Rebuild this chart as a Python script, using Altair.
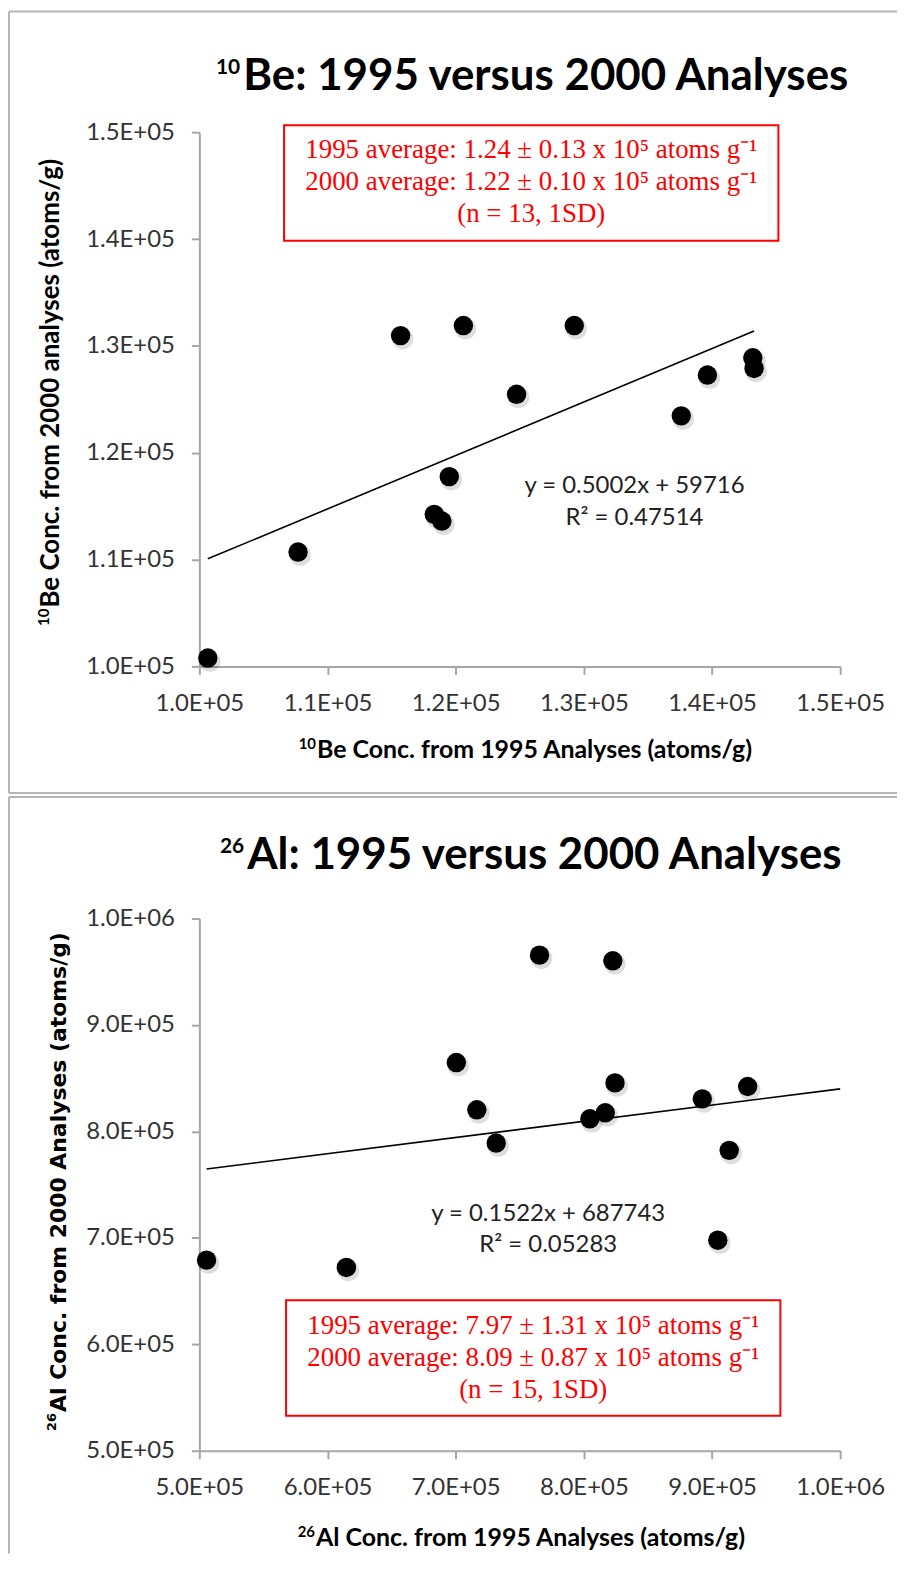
import altair as alt
import pandas as pd

# ---------------- data ----------------
be_1995 = [100660, 107700, 115700, 120600, 129250, 124750, 119500, 118330, 118920, 137600, 139640, 143180, 143280]
be_2000 = [100780, 110700, 130960, 131900, 131900, 125470, 117760, 114220, 113600, 123450, 127270, 128880, 127890]

al_1995 = [505600, 614700, 765400, 822600, 700500, 716500, 731600, 804700, 816700, 824300, 892400, 927800, 913400, 904500]
al_2000 = [679100, 672200, 965600, 960300, 864700, 820300, 789100, 811900, 817500, 845600, 830600, 842200, 782200, 697800]

be_fit = [0.5002, 59716]
al_fit = [0.1522, 687743]

be_ticks = [100000, 110000, 120000, 130000, 140000, 150000]
al_ticks = [500000, 600000, 700000, 800000, 900000, 1000000]

be_box_lines = ["1995 average: 1.24 \u00b1 0.13 x 10\u2075 atoms g\u207b\u00b9",
                "2000 average: 1.22 \u00b1 0.10 x 10\u2075 atoms g\u207b\u00b9",
                "(n = 13, 1SD)"]
al_box_lines = ["1995 average: 7.97 \u00b1 1.31 x 10\u2075 atoms g\u207b\u00b9",
                "2000 average: 8.09 \u00b1 0.87 x 10\u2075 atoms g\u207b\u00b9",
                "(n = 15, 1SD)"]
be_eq_lines = ["y = 0.5002x + 59716", "R\u00b2 = 0.47514"]
al_eq_lines = ["y = 0.1522x + 687743", "R\u00b2 = 0.05283"]

FONT = "Lato"
SERIF = "Liberation Serif"
AXIS_GRAY = "#a6a6a6"
BORDER = "#b5b5b5"
W = 643
LABEL_EXPR = ("datum.value >= 999999 ? format(datum.value / 1000000, '.1f') + 'E+06' : "
              "format(datum.value / 100000, '.1f') + 'E+05'")


def one():
    return pd.DataFrame({"k": [0]})


def build(c):
    xs = alt.Scale(domain=c["dom"], nice=False, zero=False)
    ys = alt.Scale(domain=c["dom_y"], nice=False, zero=False)
    common = dict(grid=False, title=None, labelExpr=LABEL_EXPR, domainColor=AXIS_GRAY,
                  domainWidth=2, tickColor=AXIS_GRAY, tickWidth=2, tickSize=8,
                  labelFont=FONT, labelFontSize=24, labelColor="#333333",
                  labelPadding=17, labelFlush=False, labelOverlap=False)
    ax_x = alt.Axis(values=c["ticks"], **common)
    ax_y = alt.Axis(values=c["ticks_y"], **common)

    def X(f="x"):
        return alt.X(f"{f}:Q", scale=xs, axis=ax_x)

    def Y(f="y"):
        return alt.Y(f"{f}:Q", scale=ys, axis=ax_y)

    layers = []
    # panel border
    layers.append(alt.Chart(one()).mark_rule(color=BORDER, strokeWidth=2).encode(
        x=alt.value(-191), x2=alt.value(700), y=alt.value(c["bt"])))
    layers.append(alt.Chart(one()).mark_rule(color=BORDER, strokeWidth=2).encode(
        x=alt.value(-191), y=alt.value(c["bt"]), y2=alt.value(c["bb"])))
    if c.get("bottom_line") is not None:
        layers.append(alt.Chart(one()).mark_rule(color=BORDER, strokeWidth=2).encode(
            x=alt.value(-191), x2=alt.value(700), y=alt.value(c["bottom_line"])))

    # chart title (superscript + main)
    tx, ty = c["title_pos"]
    layers.append(alt.Chart(one()).mark_text(
        text=c["title"], font=FONT, fontSize=44, fontWeight="bold", align="left",
        baseline="alphabetic", color="black").encode(x=alt.value(tx), y=alt.value(ty)))
    layers.append(alt.Chart(one()).mark_text(
        text=c["sup"], font=FONT, fontSize=21, fontWeight="bold", align="right",
        baseline="alphabetic", color="black", dx=-3, dy=-16).encode(x=alt.value(tx), y=alt.value(ty)))

    # x axis title
    xx, xy = c["xtitle_pos"]
    layers.append(alt.Chart(one()).mark_text(
        text=c["xtitle"], font=FONT, fontSize=25, fontWeight="bold", align="left",
        baseline="alphabetic", color="black").encode(x=alt.value(xx), y=alt.value(xy)))
    layers.append(alt.Chart(one()).mark_text(
        text=c["sup"], font=FONT, fontSize=15, fontWeight="bold", align="right",
        baseline="alphabetic", color="black", dx=-1, dy=-9).encode(x=alt.value(xx), y=alt.value(xy)))

    # y axis title (rotated)
    yx, yy = c["ytitle_pos"]
    layers.append(alt.Chart(one()).mark_text(
        text=c["ytitle"], font=c["yfont"], fontSize=c["ysize"], fontWeight="bold", align="left",
        baseline="alphabetic", color="black", angle=270).encode(x=alt.value(yx), y=alt.value(yy)))
    layers.append(alt.Chart(one()).mark_text(
        text=c["sup"], font=c["yfont"], fontSize=c["ysup"], fontWeight="bold", align="right",
        baseline="alphabetic", color="black", angle=270, dx=-1, dy=-10).encode(x=alt.value(yx), y=alt.value(yy)))

    # red annotation box
    bx = c["box"]
    box_df = pd.DataFrame({"x": [bx[0]], "x2": [bx[1]], "y": [bx[2]], "y2": [bx[3]]})
    layers.append(alt.Chart(box_df).mark_rect(fill="white", stroke="#ff0000", strokeWidth=2).encode(
        x=X(), x2="x2:Q", y=Y(), y2="y2:Q"))
    bt_df = pd.DataFrame({"x": [c["box_text"][0]], "y": [c["box_text"][1]]})
    layers.append(alt.Chart(bt_df).mark_text(
        text=c["box_lines"], font=SERIF, fontSize=27, color="#ff0000", lineHeight=32,
        align="center", baseline="middle").encode(x=X(), y=Y()))

    # trend line
    t_df = pd.DataFrame({"x": c["trend_x"]})
    layers.append(alt.Chart(t_df).transform_calculate(
        y=f"{c['fit'][0]} * datum.x + {c['fit'][1]}").mark_line(color="black", strokeWidth=1.6).encode(
        x=X(), y=Y()))

    # equation
    eq_df = pd.DataFrame({"x": [c["eq"][0]], "y": [c["eq"][1]]})
    layers.append(alt.Chart(eq_df).mark_text(
        text=c["eq_lines"], font=FONT, fontSize=24, color="#222222", lineHeight=32,
        align="center", baseline="middle").encode(x=X(), y=Y()))

    # points (shadow + marker)
    p_df = pd.DataFrame({"x": c["xv"], "y": c["yv"]})
    layers.append(alt.Chart(p_df).mark_circle(size=470, color="black", opacity=0.13,
                                              xOffset=2, yOffset=3).encode(x=X(), y=Y()))
    layers.append(alt.Chart(p_df).mark_circle(size=380, color="black", opacity=1).encode(x=X(), y=Y()))

    return alt.layer(*layers).properties(width=W, height=c["H"])


be_cfg = dict(
    dom=[100000, 150000], dom_y=[100000, 150000], ticks=be_ticks, ticks_y=be_ticks, H=536,
    bt=-121, bb=663, bottom_line=663,
    title="Be: 1995 versus 2000 Analyses", sup="10", title_pos=(44, -42),
    xtitle="Be Conc. from 1995 Analyses (atoms/g)", xtitle_pos=(118, 628),
    ytitle="Be  Conc. from 2000 analyses (atoms/g)", yfont=FONT, ysize=26, ysup=15,
    ytitle_pos=(-141, 477),
    box=[106610, 145180, 150650, 139830], box_text=(125894, 148320), box_lines=be_box_lines,
    trend_x=[min(be_1995), max(be_1995)], fit=be_fit,
    eq=(133950, 116884), eq_lines=be_eq_lines,
    xv=be_1995, yv=be_2000,
)

al_cfg = dict(
    dom=[500000, 1000000], dom_y=[500000, 1000000], ticks=al_ticks, ticks_y=al_ticks, H=534,
    bt=-122, bb=637, bottom_line=None,
    title="Al: 1995 versus 2000 Analyses", sup="26", title_pos=(48, -50),
    xtitle="Al Conc. from 1995 Analyses (atoms/g)", xtitle_pos=(117, 630),
    ytitle="Al  Conc. from 2000 Analyses (atoms/g)", yfont="DejaVu Sans", ysize=22, ysup=13,
    ytitle_pos=(-134, 495),
    box=[567650, 953340, 641390, 532770], box_text=(760500, 617040), box_lines=al_box_lines,
    trend_x=[min(al_1995), 1000000], fit=al_fit,
    eq=(772160, 722850), eq_lines=al_eq_lines,
    xv=al_1995, yv=al_2000,
)

chart = alt.vconcat(build(be_cfg), build(al_cfg), spacing=253, bounds="flush", padding=0,
                    background="white").configure_view(stroke=None)

chart.save("out.html", embed_options={"renderer": "svg", "actions": False})
